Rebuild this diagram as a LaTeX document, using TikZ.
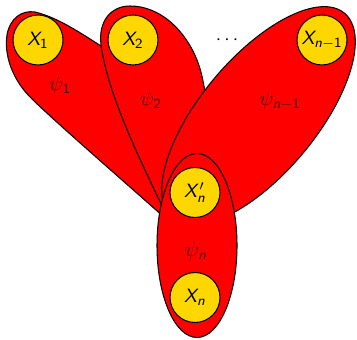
\documentclass[tikz,border=0pt]{standalone}
\DeclareMathAlphabet{\mathsfsl}{OT1}{cmss}{m}{sl}
\definecolor{gold}{RGB}{255,215,0}
\definecolor{darkred}{RGB}{80,0,0}
\begin{document}
\begin{tikzpicture}[x=0.02cm, y=-0.02cm, line width=0.6pt,
  factor/.style={draw=black, fill=red},
  varnode/.style={circle, draw=black, fill=gold, minimum size=1cm, inner sep=0pt,
    font=\fontsize{10.95}{13}\selectfont},
  flabel/.style={text=darkred, font=\fontsize{12}{14}\selectfont}]
  \useasboundingbox (0,0) rectangle (357,340);
  % psi_1
  \draw[factor] (165,218) .. controls (120,178) and (60,126) .. (33,100)
    .. controls (12,80) and (4,55) .. (7,35) .. controls (10,18) and (22,10) .. (35,12)
    .. controls (60,18) and (85,36) .. (115,55) -- (190,150) -- (195,215) -- cycle;
  % psi_2
  \draw[factor] (165,212) .. controls (140,160) and (108,95) .. (101,45)
    .. controls (98,20) and (112,6) .. (130,6) .. controls (160,6) and (185,30) .. (197,60)
    .. controls (203,75) and (206,95) .. (210,130) -- (215,180) -- (190,215) -- cycle;
  % psi_{n-1}
  \draw[factor, rotate around={50.1:(258.5,116)}] (258.5,116) ellipse (134 and 58);
  % psi_n
  \draw[factor] (197,245.5) ellipse (40 and 92);

  \node[varnode] (x1) at (38,40) {$\mathsfsl{X}_{\mathsf{1}}$};
  \node[varnode] (x2) at (133,40) {$\mathsfsl{X}_{\mathsf{2}}$};
  \node[varnode] (xn1) at (322,40) {$\mathsfsl{X}_{\mathsfsl{n}-\mathsf{1}}$};
  \node[varnode] (xnp) at (195,192.5) {$\mathsfsl{X}'_{\mathsfsl{n}}$};
  \node[varnode] (xn) at (195,297.5) {$\mathsfsl{X}_{\mathsfsl{n}}$};
  \node[font=\fontsize{10.95}{13}\selectfont] (dots) at (227,40) {$\cdots$};

  \node[flabel] (p1) at (60,85) {$\psi_{\mathsf{1}}$};
  \node[flabel] (p2) at (151,100) {$\psi_{\mathsf{2}}$};
  \node[flabel] (pn1) at (280,100) {$\psi_{\mathsfsl{n}-\mathsf{1}}$};
  \node[flabel] (pn) at (196,251) {$\psi_{\mathsfsl{n}}$};
\end{tikzpicture}
\end{document}
